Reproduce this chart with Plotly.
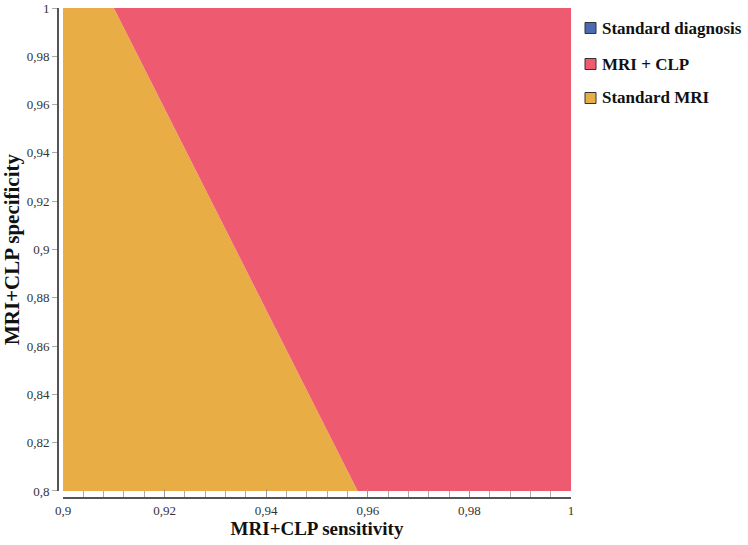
import plotly.graph_objects as go

# Axis ranges
x_range = [0.9, 1.0]
y_range = [0.8, 1.0]

# Boundary between regions (sensitivity at top and bottom specificity)
boundary_x_at_top = 0.91
boundary_x_at_bottom = 0.958

# Legend series
series_names = ["Standard diagnosis", "MRI + CLP", "Standard MRI"]
series_colors = ["#4A6BB4", "#EE5B71", "#E8AE45"]

x_ticks = [0.9, 0.92, 0.94, 0.96, 0.98, 1.0]
y_ticks = [0.8, 0.82, 0.84, 0.86, 0.88, 0.9, 0.92, 0.94, 0.96, 0.98, 1.0]

FONT = "Liberation Serif"

fig = go.Figure()

# Standard MRI region (left)
fig.add_trace(go.Scatter(
    x=[x_range[0], boundary_x_at_bottom, boundary_x_at_top, x_range[0], x_range[0]],
    y=[y_range[0], y_range[0], y_range[1], y_range[1], y_range[0]],
    fill="toself", fillcolor=series_colors[2], mode="lines",
    line=dict(width=0, color=series_colors[2]), showlegend=False,
    name=series_names[2], hoverinfo="name"))

# MRI + CLP region (right)
fig.add_trace(go.Scatter(
    x=[boundary_x_at_bottom, x_range[1], x_range[1], boundary_x_at_top, boundary_x_at_bottom],
    y=[y_range[0], y_range[0], y_range[1], y_range[1], y_range[0]],
    fill="toself", fillcolor=series_colors[1], mode="lines",
    line=dict(width=0, color=series_colors[1]), showlegend=False,
    name=series_names[1], hoverinfo="name"))

# Custom legend (squares + labels) placed in paper coordinates
W, H = 748, 545
ML, MR, MT, MB = 58, 177, 8, 47
PW, PH = W - ML - MR, H - MT - MB

def px_to_paper_x(px):
    return (px - ML) / PW

def px_to_paper_y(py):
    return (H - MB - py) / PH

legend_rows_y = [28, 64, 98]
for name, col, yc in zip(series_names, series_colors, legend_rows_y):
    fig.add_shape(type="rect", xref="paper", yref="paper",
                  x0=px_to_paper_x(585), x1=px_to_paper_x(596),
                  y0=px_to_paper_y(yc + 5.5), y1=px_to_paper_y(yc - 5.5),
                  fillcolor=col, line=dict(color="#333333", width=1))
    fig.add_annotation(xref="paper", yref="paper",
                       x=px_to_paper_x(600), y=px_to_paper_y(yc),
                       xanchor="left", yanchor="middle", showarrow=False,
                       text=f"<b>{name}</b>",
                       font=dict(family=FONT, size=17, color="#111111"))

fig.update_layout(
    width=W, height=H,
    margin=dict(l=ML, r=MR, t=MT, b=MB, autoexpand=False),
    paper_bgcolor="white", plot_bgcolor="white",
    separators=", ",
    font=dict(family=FONT, color="#333333"),
    showlegend=False,
    xaxis=dict(
        range=x_range, domain=[0.0098, 1.0], anchor="free", position=0,
        tickvals=x_ticks, showgrid=False, zeroline=False, automargin=False,
        showline=True, linecolor="#555555", linewidth=2,
        ticks="inside", ticklen=8, tickcolor="#999999", tickwidth=1,
        minor=dict(dtick=0.004, tick0=0.9, ticks="inside", ticklen=6,
                   tickcolor="#aaaaaa", showgrid=False),
        tickfont=dict(family=FONT, size=13, color="#333333"),
        title=dict(text="<b>MRI+CLP sensitivity</b>", standoff=4,
                   font=dict(family=FONT, size=19, color="#111111"))),
    yaxis=dict(
        range=y_range, domain=[0.0143, 1.0], anchor="free", position=0,
        tickvals=y_ticks, showgrid=False, zeroline=False, automargin=False,
        showline=True, linecolor="#555555", linewidth=2,
        ticks="outside", ticklen=5, tickcolor="#aaaaaa", tickwidth=1,
        tickfont=dict(family=FONT, size=13, color="#333333"),
        title=dict(text="<b>MRI+CLP specificity</b>", standoff=8,
                   font=dict(family=FONT, size=21, color="#111111"))),
)

fig.write_html("out.html", config={"displayModeBar": False},
               post_script="document.body.style.margin='0';")
